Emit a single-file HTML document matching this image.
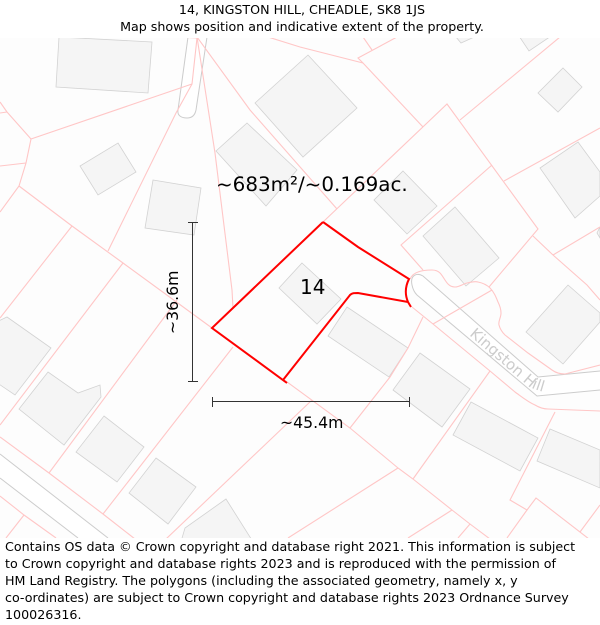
<!DOCTYPE html>
<html lang="en">
<head>
<meta charset="utf-8">
<title>14, Kingston Hill, Cheadle map</title>
<style>
html,body{margin:0;padding:0;background:#fff;}
svg{display:block;font-family:"DejaVu Sans","Liberation Sans",sans-serif;}
.b polygon{fill:#f5f5f5;stroke:#d2d2d2;stroke-width:0.8;}
.p polyline{fill:none;stroke:#ffc6c6;stroke-width:1.1;}
.r{fill:#fff;stroke:#cccccc;stroke-width:1;}
.m{stroke:#333;stroke-width:1;fill:none;}
</style>
</head>
<body>
<svg width="600" height="625" viewBox="0 0 600 625" xmlns="http://www.w3.org/2000/svg">
<rect x="0" y="0" width="600" height="625" fill="#fff"/>
<text x="302" y="14" text-anchor="middle" font-size="12.67" fill="#000">14, KINGSTON HILL, CHEADLE, SK8 1JS</text>
<text x="302" y="31" text-anchor="middle" font-size="12.67" fill="#000">Map shows position and indicative extent of the property.</text>
<svg x="0" y="38" width="600" height="500" viewBox="0 38 600 500">
<rect x="0" y="38" width="600" height="500" fill="#fdfdfd"/>

<g>
<path class="r" d="M188,37 L178,110 C177,116 182,118 187,118 C192,118 195,115 196,110 L207,37"/>
<path class="r" d="M600,371 L538,377 L423,276 C416,272 410,276 412,285 C413,290 415,293 417,295 L537,396 L600,390"/>
<path d="M0,454 L108,538 L78,538 L0,478 Z" fill="#fff"/>
<polyline points="0,454 108,538" fill="none" stroke="#ccc"/>
<polyline points="0,478 78,538" fill="none" stroke="#ccc"/>
</g>

<g class="b">
<polygon points="59,37 152,42 148,93 56,87"/>
<polygon points="118,143 136,172 98,195 80,166"/>
<polygon points="153,180 201,188 194,235 145,228"/>
<polygon points="247,123 297,170 266,206 216,151"/>
<polygon points="255,103 308,55 357,108 303,157"/>
<polygon points="563,68 582,87 558,112 538,93"/>
<polygon points="578,142 600,172 600,196 575,218 540,168"/>
<polygon points="403,171 437,206 407,234 374,200"/>
<polygon points="455,207 499,258 466,286 423,236"/>
<polygon points="450,30 490,30 461,43"/>
<polygon points="515,30 560,30 529,51"/>
<polygon points="600,227 597,233 600,238"/>
<polygon points="302,263 341,299 317,324 279,288"/>
<polygon points="347,307 408,348 389,377 328,336"/>
<polygon points="420,353 470,389 442,427 393,390"/>
<polygon points="568,285 600,313 600,322 563,364 526,332"/>
<polygon points="471,402 538,438 520,471 453,435"/>
<polygon points="550,429 600,450 600,488 537,461"/>
<polygon points="7,317 51,348 15,395 -10,378 -10,325"/>
<polygon points="48,372 78,393 100,385 101,397 64,445 19,409"/>
<polygon points="104,416 144,447 117,482 76,452"/>
<polygon points="156,458 196,487 168,524 129,493"/>
<polygon points="226,499 255,545 180,545 185,528"/>
</g>

<g class="p">
<polyline points="178,37 197,38 192,84 31,139"/>
<polyline points="31,139 7,112 0,102"/>
<polyline points="0,113 7,112"/>
<polyline points="31,139 26,163 19,186 0,212"/>
<polyline points="26,163 0,166"/>
<polyline points="19,186 72,226 123,263 212,328"/>
<polyline points="283,379 350,428 398,468 413,479 452,510 470,524 490,539"/>
<polyline points="72,226 0,318"/>
<polyline points="123,263 0,425"/>
<polyline points="192,84 176,113 108,251"/>
<polyline points="197,37 215,153 232,290 233,308"/>
<polyline points="197,37 250,110 337,209"/>
<polyline points="268,37 300,47 363,63"/>
<polyline points="397,37 358,58 363,63 423,127"/>
<polyline points="363,37 372,50"/>
<polyline points="323,222 447,104 538,229 489,287"/>
<polyline points="460,120 560,37"/>
<polyline points="492,165 401,245 423,270"/>
<polyline points="504,181 600,128"/>
<polyline points="533,236 553,255 587,285 600,300"/>
<polyline points="553,255 600,227"/>
<path fill="none" stroke="#ffc6c6" stroke-width="1.1" d="M410,279 C412,275 415,273 418,272 C423,270 428,270 432,270 C436,270 438,271 440,273 C443,276 445,281 448,284 C450,286 452,287 455,287 C459,287 463,284 467,283 C471,282 475,281 478,282 C483,283 487,285 490,288 C494,292 496,297 498,302 C500,306 501,310 501,313 C501,318 498,321 499,325 C500,329 502,332 505,335 L528,353 L552,370 C556,373 560,374 565,374 L600,365"/>
<polyline points="492,290 433,324"/>
<path fill="none" stroke="#ffc6c6" stroke-width="1.1" d="M412,307 L433,324 L490,371 L515,392 C522,397 528,402 535,405 C540,408 544,409 548,409 L600,411"/>
<polyline points="423,317 408,348 390,377 350,428"/>
<polyline points="490,371 413,479"/>
<polyline points="555,412 510,500 527,510 507,538"/>
<polyline points="527,510 536,498 589,539"/>
<polyline points="580,532 600,505"/>
<polyline points="398,468 288,538"/>
<polyline points="452,510 408,538"/>
<polyline points="470,524 458,538"/>
<polyline points="0,437 49,473 103,514 135,539"/>
<polyline points="49,473 177,300"/>
<polyline points="103,514 233,347"/>
<polyline points="166,539 312,400"/>
<polyline points="0,496 24,515 56,538"/>
<polyline points="24,515 6,538"/>
</g>

<defs><path id="road-label-path" d="M469,335 L527,385 Q533,390 552,394"/></defs>
<text font-size="15" fill="#cccccc"><textPath href="#road-label-path">Kingston Hill</textPath></text>

<path d="M323,222 L358,247 L409,279 C405,287 405,295 408,302 L411,307 M408,302 L358,293 C354,293 352,293 350,295 L283,380 M287,383 L212,328 L323,222" fill="none" stroke="#ff0000" stroke-width="2"/>

<g class="m">
<line x1="192.5" y1="222.5" x2="192.5" y2="381.5"/>
<line x1="188" y1="222.5" x2="198" y2="222.5"/>
<line x1="188" y1="381.5" x2="198" y2="381.5"/>
</g>
<g class="m">
<line x1="212.5" y1="401.5" x2="409.5" y2="401.5"/>
<line x1="212.5" y1="397" x2="212.5" y2="407"/>
<line x1="409.5" y1="397" x2="409.5" y2="407"/>
</g>

<text x="216" y="191" font-size="19.9" fill="#000">~683m²/~0.169ac.</text>
<text x="300" y="294" font-size="20" fill="#000">14</text>
<text transform="translate(178,334) rotate(-90)" font-size="15.7" fill="#000">~36.6m</text>
<text x="280" y="428" font-size="15.7" fill="#000">~45.4m</text>
</svg>

<g font-size="12.67" fill="#000">
<text x="5" y="551">Contains OS data © Crown copyright and database right 2021. This information is subject</text>
<text x="5" y="568">to Crown copyright and database rights 2023 and is reproduced with the permission of</text>
<text x="5" y="585">HM Land Registry. The polygons (including the associated geometry, namely x, y</text>
<text x="5" y="602">co-ordinates) are subject to Crown copyright and database rights 2023 Ordnance Survey</text>
<text x="5" y="619">100026316.</text>
</g>
</svg>
</body>
</html>
